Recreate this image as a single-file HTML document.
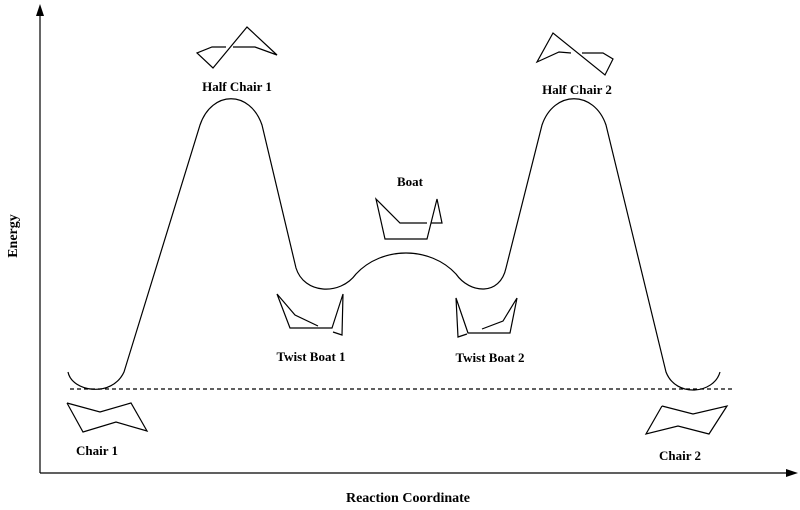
<!DOCTYPE html>
<html><head><style>body{margin:0;background:#fff}svg{display:block}text{font-family:"Liberation Serif",serif;font-weight:bold;fill:#000}</style></head>
<body>
<svg width="800" height="510" viewBox="0 0 800 510" xmlns="http://www.w3.org/2000/svg">
<g stroke="#000" stroke-width="1.2" fill="none">
<line x1="40" y1="473" x2="40" y2="12"/>
<line x1="40" y1="473" x2="790" y2="473"/>
<path d="M68,372 C72,392 112,398 124,372 L200,125 C212,90 250,90 262,125 L296,268 C304,294 340,296 356,274 C382,246 430,246 456,274 C470,294 500,296 506,268 L542,125 C554,90 594,90 606,125 L666,372 C676,398 714,394 720,372"/>
<line x1="70" y1="389" x2="733" y2="389" stroke-dasharray="4,3"/>
<polyline points="67,403 100,412 131,403 147,431 116,422 83,432 67,403"/>
<polyline points="662,406 693,414 727,406 709,434 678,426 646,434 662,406"/>
<polyline points="226,47 212,47 197,53 213,68 247,27 277,55 255,47 233,47"/>
<polyline points="571,53 559,52 537,62 553,33 605,75 613,59 603,53 582,53"/>
<polyline points="427,223 400,223 376,199 385,239 427,239 437,199 442,223 431,223"/>
<polyline points="318,326 295,315 277,294 290,328 332,328 343,294 342,335 333,332"/>
<polyline points="482,329 503,321 517,298 510,333 468,333 456,298 458,337 467,334"/>
</g>
<polygon points="40,4 36,16 44,16" fill="#000"/>
<polygon points="798,473 786,469 786,477" fill="#000"/>
<g font-size="13" text-anchor="middle">
<text x="237" y="91">Half Chair 1</text>
<text x="577" y="94">Half Chair 2</text>
<text x="410" y="186">Boat</text>
<text x="311" y="361">Twist Boat 1</text>
<text x="490" y="362">Twist Boat 2</text>
<text x="97" y="455">Chair 1</text>
<text x="680" y="460">Chair 2</text>
<text x="408" y="502" font-size="14">Reaction Coordinate</text>
<text x="0" y="0" font-size="14" transform="translate(17,236) rotate(-90)">Energy</text>
</g>
</svg>
</body></html>
